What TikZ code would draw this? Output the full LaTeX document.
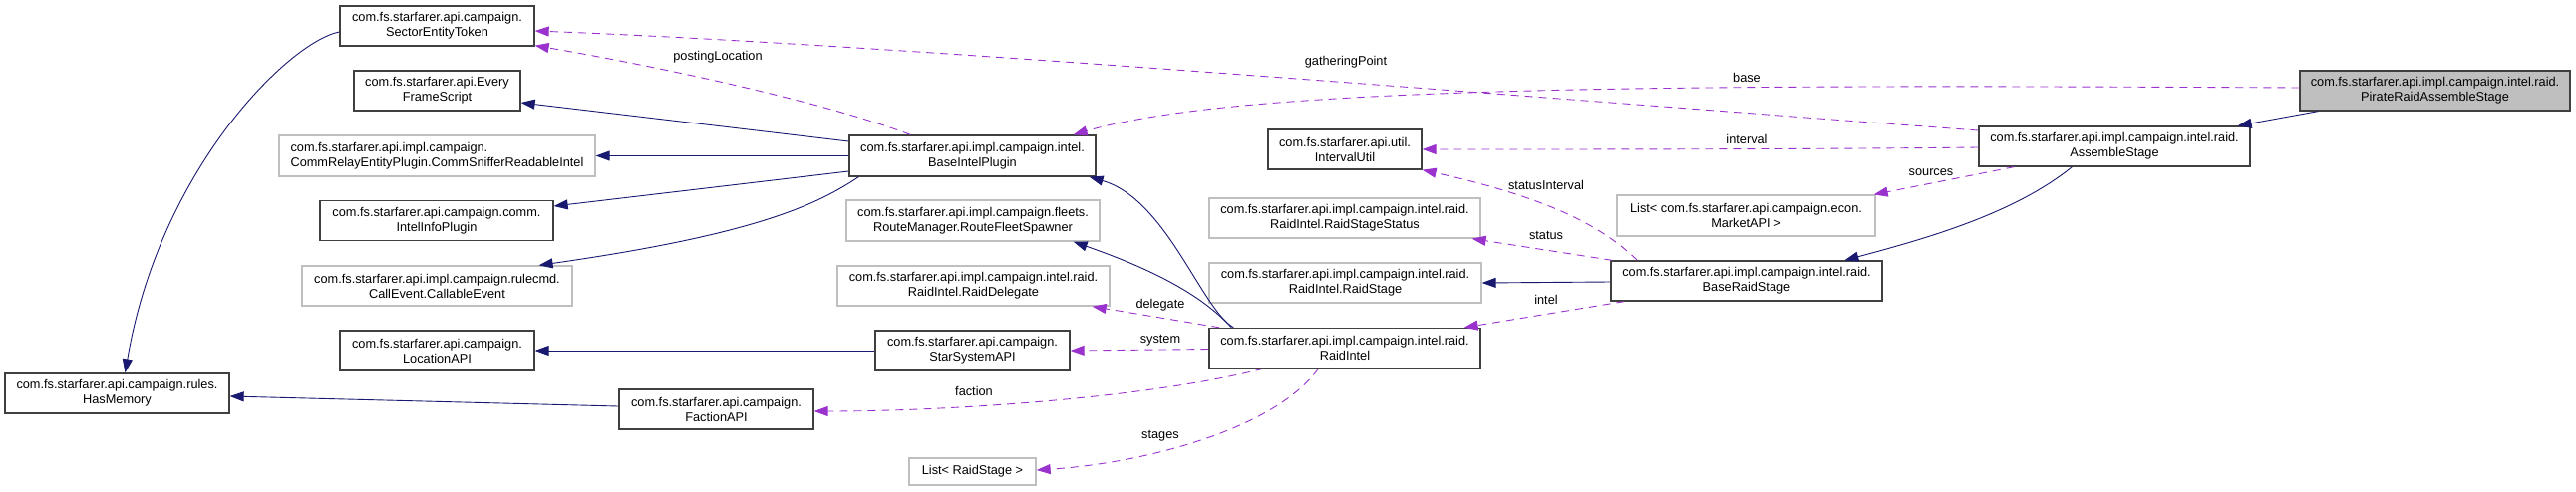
\documentclass[tikz,border=0pt]{standalone}
\usepackage{fontspec}
\setmainfont{Liberation Sans}
\usetikzlibrary{arrows.meta,calc}
\definecolor{navyc}{HTML}{191970}
\definecolor{purplec}{HTML}{9A32CD}
\definecolor{lgrayc}{HTML}{BFBFBF}
\definecolor{bordc}{HTML}{404040}
\newcommand\dfont{\fontsize{12.75}{15}\selectfont}
\tikzset{
 cls/.style={draw=bordc, line width=1.3pt, rectangle, inner sep=0pt, align=center, minimum height=40pt, font=\dfont},
 ext/.style={cls, draw=lgrayc},
 inh/.style={draw=navyc, line width=0.9pt, -{Triangle[length=14pt,width=10pt]}},
 use/.style={draw=purplec, line width=0.9pt, dash pattern=on 8pt off 6pt, -{Triangle[length=14pt,width=10pt]}},
 lbl/.style={font=\dfont, inner sep=1pt},
}
\begin{document}
\begin{tikzpicture}[x=1pt,y=-1pt]
\useasboundingbox (0,0) rectangle (2584,493);
% nodes
\node[cls, minimum width=195pt] (SET) at (438.5,26) {com.fs.starfarer.api.campaign.\\SectorEntityToken};
\node[cls, minimum width=167pt] (EFS) at (438.5,91) {com.fs.starfarer.api.Every\\FrameScript};
\node[ext, minimum width=317pt, minimum height=41pt, align=left] (CRE) at (438.5,156.5) {com.fs.starfarer.api.impl.campaign.\\CommRelayEntityPlugin.CommSnifferReadableIntel};
\node[cls, minimum width=234pt] (IIP) at (438,221.5) {com.fs.starfarer.api.campaign.comm.\\IntelInfoPlugin};
\node[ext, minimum width=271pt] (CE) at (438.5,287) {com.fs.starfarer.api.impl.campaign.rulecmd.\\CallEvent.CallableEvent};
\node[cls, minimum width=195pt] (LOC) at (438.5,352) {com.fs.starfarer.api.campaign.\\LocationAPI};
\node[cls, minimum width=225pt] (HM) at (117.5,395) {com.fs.starfarer.api.campaign.rules.\\HasMemory};
\node[cls, minimum width=195pt] (FAC) at (718.5,411) {com.fs.starfarer.api.campaign.\\FactionAPI};
\node[cls, minimum width=247pt, minimum height=41pt] (BIP) at (975.5,156.5) {com.fs.starfarer.api.impl.campaign.intel.\\BaseIntelPlugin};
\node[ext, minimum width=254pt, minimum height=41pt] (RFS) at (976,221.5) {com.fs.starfarer.api.impl.campaign.fleets.\\RouteManager.RouteFleetSpawner};
\node[ext, minimum width=273pt] (RD) at (976.5,287) {com.fs.starfarer.api.impl.campaign.intel.raid.\\RaidIntel.RaidDelegate};
\node[cls, minimum width=195pt] (SSA) at (975.5,352) {com.fs.starfarer.api.campaign.\\StarSystemAPI};
\node[ext, minimum width=127pt, minimum height=27pt] (LRS) at (975.5,473.5) {List< RaidStage >};
\node[cls, minimum width=154pt] (IU) at (1349,150) {com.fs.starfarer.api.util.\\IntervalUtil};
\node[ext, minimum width=272pt] (RSS) at (1349,219) {com.fs.starfarer.api.impl.campaign.intel.raid.\\RaidIntel.RaidStageStatus};
\node[ext, minimum width=273pt] (RS) at (1349.5,284) {com.fs.starfarer.api.impl.campaign.intel.raid.\\RaidIntel.RaidStage};
\node[cls, minimum width=272pt] (RI) at (1349,349.5) {com.fs.starfarer.api.impl.campaign.intel.raid.\\RaidIntel};
\node[ext, minimum width=259pt, minimum height=41pt] (LMA) at (1751.5,216.5) {List< com.fs.starfarer.api.campaign.econ.\\MarketAPI >};
\node[cls, minimum width=272pt] (BRS) at (1752,282) {com.fs.starfarer.api.impl.campaign.intel.raid.\\BaseRaidStage};
\node[cls, minimum width=272pt] (AS) at (2121,147) {com.fs.starfarer.api.impl.campaign.intel.raid.\\AssembleStage};
\node[cls, fill=lgrayc, minimum width=271pt] (PRA) at (2442.5,91) {com.fs.starfarer.api.impl.campaign.intel.raid.\\PirateRaidAssembleStage};
% inheritance
\draw[inh] ($(PRA.south west)+(19,0)$) -- ($(AS.north east)+(-13,0)$);
\draw[inh] ($(AS.south west)+(94,0)$) .. controls (2020,215) and (1930,240) .. ($(BRS.north west)+(235,0)$);
\draw[inh] ($(BRS.west)+(0,1)$) -- (RS.east);
\draw[inh] ($(RI.north west)+(25,0)$) .. controls (1205,310) and (1170,200) .. ($(BIP.south east)+(-7,0)$);
\draw[inh] ($(RI.north west)+(23,0)$) .. controls (1200,290) and (1140,265) .. ($(RFS.south east)+(-27,0)$);
\draw[inh] (SSA.west) -- (LOC.east);
\draw[inh] ($(FAC.west)+(0,-3)$) -- ($(HM.east)+(0,3)$);
\draw[inh] ($(SET.west)+(0,6)$) .. controls (290,42) and (160,170) .. ($(HM.north)+(8,0)$);
\draw[inh] ($(BIP.west)+(0,-14.5)$) -- ($(EFS.east)+(0,12)$);
\draw[inh] (BIP.west) -- (CRE.east);
\draw[inh] ($(BIP.west)+(0,15.5)$) -- ($(IIP.east)+(0,-14.5)$);
\draw[inh] ($(BIP.south west)+(10,0)$) .. controls (820,205) and (760,235) .. ($(CE.north east)+(-34,0)$);
% usage
\draw[use] ($(PRA.west)+(0,-3)$) .. controls (1700,85) and (1250,85) .. ($(BIP.north east)+(-23,0)$);
\node[lbl] (lbase) at (1752,78) {base};
\draw[use] ($(AS.west)+(0,-16)$) .. controls (1500,95) and (900,45) .. ($(SET.east)+(0,5)$);
\node[lbl] (lgath) at (1350,62) {gatheringPoint};
\draw[use] ($(BIP.north west)+(62,0)$) .. controls (820,100) and (650,65) .. ($(SET.south east)+(0,-1)$);
\node[lbl] (lpost) at (720,57) {postingLocation};
\draw[use] ($(AS.west)+(0,1)$) .. controls (1800,150) and (1600,150) .. (IU.east);
\node[lbl] (linter) at (1752,140) {interval};
\draw[use] ($(AS.south west)+(36,0)$) -- ($(LMA.north east)+(-2,0)$);
\node[lbl] (lsrc) at (1937,173) {sources};
\draw[use] ($(BRS.north west)+(27,0)$) .. controls (1610,230) and (1560,200) .. (IU.south east);
\node[lbl] (lsi) at (1551,186) {statusInterval};
\draw[use] ($(BRS.north west)+(2,0)$) -- ($(RSS.south east)+(-9,0)$);
\node[lbl] (lstat) at (1551,236) {status};
\draw[use] ($(BRS.south west)+(14,0)$) -- ($(RI.north east)+(-17,0)$);
\node[lbl] (lintel) at (1551,301) {intel};
\draw[use] ($(RI.north west)+(11,0)$) -- ($(RD.south east)+(-18,0)$);
\node[lbl] (ldel) at (1164,306) {delegate};
\draw[use] ($(RI.west)+(0,1)$) -- (SSA.east);
\node[lbl] (lsys) at (1164,342) {system};
\draw[use] ($(RI.south west)+(55,0)$) .. controls (1150,400) and (950,413) .. ($(FAC.east)+(0,2)$);
\node[lbl] (lfac) at (977,393) {faction};
\draw[use] ($(RI.south west)+(110,0)$) .. controls (1280,430) and (1150,465) .. ($(LRS.east)+(0,-1.5)$);
\node[lbl] (lstg) at (1164,438) {stages};
\end{tikzpicture}
\end{document}
